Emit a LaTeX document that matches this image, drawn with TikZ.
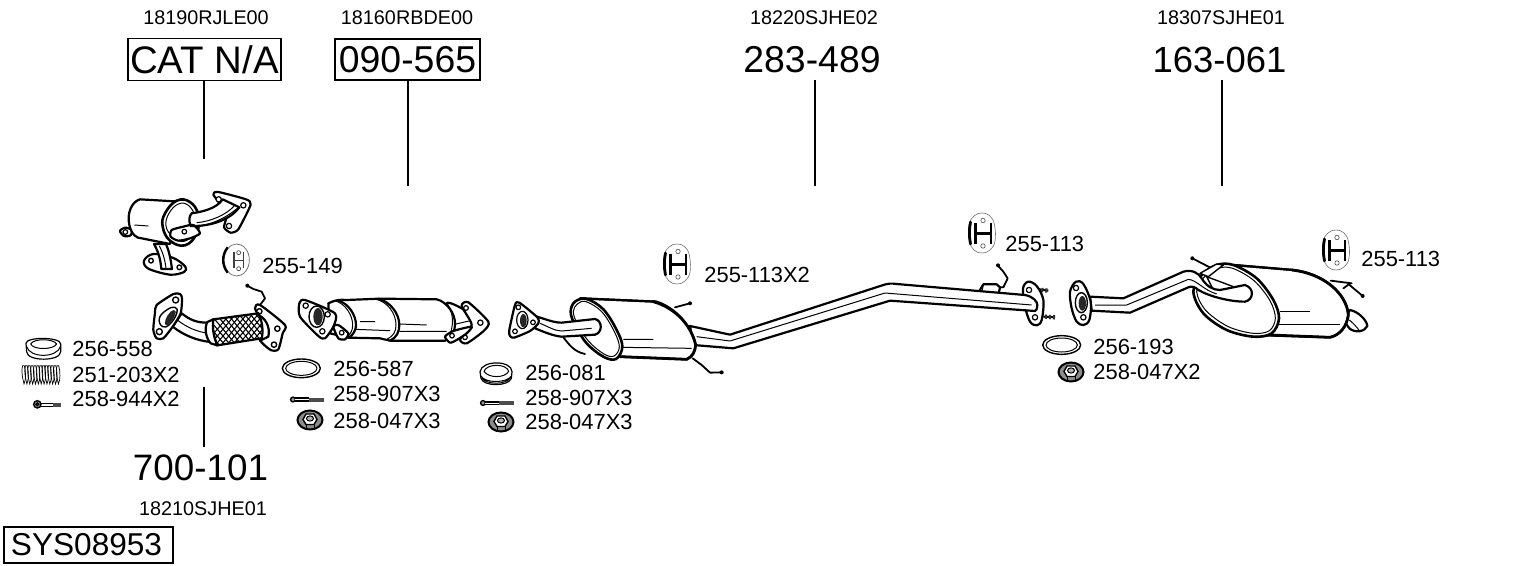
\documentclass[tikz,border=0pt]{standalone}
\usepackage{fontspec}
\setmainfont{Liberation Sans}
\tikzset{
  zg/.style={x=0.16667pt,y=-0.16667pt},
  part/.style={draw=black,fill=white,line width=1.1pt,line join=round},
  thn/.style={draw=black,line width=0.5pt,line join=round},
  wire/.style={draw=black,line width=0.9pt,line join=round,line cap=round},
  hugelab/.style={font=\fontsize{18.7}{20}\selectfont,inner sep=0pt,inner ysep=3.4pt},
  syslab/.style={font=\fontsize{15.8}{18}\selectfont,draw,line width=0.6pt,inner sep=0pt},
  reflab/.style={font=\fontsize{9.9}{12}\selectfont,inner sep=0pt},
  qtylab/.style={font=\fontsize{10.95}{13}\selectfont,anchor=west,inner sep=0pt},
  leader/.style={draw=black,line width=0.7pt},
  hanger/.pic={
    \draw[draw=black!55,line width=0.3pt,fill=white] plot[smooth cycle,tension=0.7] coordinates {(0,-20) (8,-17) (12.5,-8) (13,8) (8,17) (0,20) (-8,17) (-12.5,8) (-13,-8) (-8,-17)};
    \draw[line width=1.4pt,line cap=round] (-11.5,-11) .. controls (-13,-4) and (-13,4) .. (-11.5,11);
    \draw[line width=1.05pt] (-6.5,-10) -- (-6.5,11) (9,-10) -- (9,11) (-6.5,0.5) -- (9,0.5);
    \draw[line width=0.3pt,draw=black!70] (1,-12.5) circle (2.2) (1,13) circle (2.2);
  },
  nutpart/.pic={
    \draw[draw=black,line width=1pt,fill=black!45] (0,0) ellipse (12.5 and 9.5);
    \draw[fill=white,line width=0.7pt] (-7,-0.5) -- (-4,-6) -- (4,-6) -- (7,-0.5) -- (4,4.5) -- (-4,4.5) -- cycle;
    \draw[fill=black!30,line width=0.5pt] (0,-1.5) ellipse (3.5 and 2.6);
    \draw[line width=0.5pt] (-4,4.5) -- (-4,8) (4,4.5) -- (4,8);
  },
  boltpart/.pic={
    \draw[line width=0.7pt,fill=black!40] (0,0) circle (2.4);
    \draw[line width=0.9pt,double=white,double distance=0.5pt] (2,0) -- (16,0);
    \draw[line width=2pt,draw=black!70] (16,0) -- (31,0);
  }
}
\begin{document}
\begin{tikzpicture}[x=0.5pt,y=-0.5pt]
\useasboundingbox (0,0) rectangle (1530,566);

% ---- texts
\node[reflab] (r1) at (206,18) {18190RJLE00};
\node[reflab] (r2) at (407,18) {18160RBDE00};
\node[reflab] (r3) at (814,18) {18220SJHE02};
\node[reflab] (r4) at (1221,18) {18307SJHE01};
\node[reflab] (r5) at (203,509) {18210SJHE01};
\node[hugelab,font=\fontsize{19.2}{20}\selectfont,draw,line width=0.6pt,minimum width=76.5pt,minimum height=20.5pt] (n1) at (204.5,59.5) {CAT N/A};
\node[hugelab,draw,line width=0.6pt,minimum width=72.5pt,minimum height=20.5pt] (n2) at (407.5,59.5) {090-565};
\node[hugelab] (n3) at (812,60) {283-489};
\node[hugelab,font=\fontsize{18.2}{20}\selectfont] (n4) at (1219.5,60) {163-061};
\node[hugelab,font=\fontsize{18.4}{20}\selectfont] (n5) at (200.5,467.5) {700-101};
\node[syslab,minimum width=84.5pt,minimum height=18pt,text width=75.5pt,align=center] (sys) at (88.5,545) {\hspace*{-2pt}SYS08953};

\coordinate (c1) at (204,159);
\coordinate (c2) at (408,186);
\coordinate (c3) at (815,186);
\coordinate (c4) at (1222,186);
\coordinate (c5) at (204,387);
\draw[leader] (c1 |- n1.south) -- (c1);
\draw[leader] (c2 |- n2.south) -- (c2);
\draw[leader] (c3 |- n3.south) -- (c3);
\draw[leader] (c4 |- n4.south) -- (c4);
\draw[leader] (c5 |- n5.north) -- (c5);

\node[qtylab] (q1) at (262,266) {255-149};
\node[qtylab] (q2) at (72,349) {256-558};
\node[qtylab] (q3) at (72,375) {251-203X2};
\node[qtylab] (q4) at (72,399) {258-944X2};
\node[qtylab] (q5) at (333,369) {256-587};
\node[qtylab] (q6) at (333,394) {258-907X3};
\node[qtylab] (q7) at (333,421) {258-047X3};
\node[qtylab] (q8) at (525,373) {256-081};
\node[qtylab] (q9) at (525,398) {258-907X3};
\node[qtylab] (q10) at (525,422) {258-047X3};
\node[qtylab] (q11) at (704,275) {255-113X2};
\node[qtylab] (q12) at (1005,244) {255-113};
\node[qtylab] (q13) at (1361,259) {255-113};
\node[qtylab] (q14) at (1093,347) {256-193};
\node[qtylab] (q15) at (1093,372) {258-047X2};

% ---- hangers, nuts, bolts
\pic at (677,264) {hanger};
\pic at (982,233) {hanger};
\pic at (1336,250) {hanger};
\pic at (310,420) {nutpart};
\pic at (501,422) {nutpart};
\pic at (1071,372) {nutpart};
\pic at (293,399.5) {boltpart};
\pic at (483,403) {boltpart};

% ---- zoom 1 region: manifold cat, hanger, flex pipe, small parts
\begin{scope}[shift={(0,170)},zg]
  % manifold cat
  \draw[part] plot[smooth cycle,tension=0.55] coordinates {(432,272) (460,252) (520,264) (556,290) (552,306) (510,314) (445,296)};
  \draw[part] (462,222) .. controls (478,250) and (482,275) .. (484,297) -- (516,297) .. controls (512,265) and (506,240) .. (498,222) -- cycle;
  \draw[thn] (478,228) .. controls (490,250) and (496,275) .. (498,296);
  \draw[part,line width=0.7pt] (453,272) circle (7) (538,292) circle (7);
  \draw[part] plot[smooth cycle,tension=0.5] coordinates {(360,183) (375,173) (395,180) (392,196) (372,198)};
  \draw[part,line width=0.6pt] (376,186) circle (7);
  \draw[part] (420,88) .. controls (395,95) and (380,130) .. (388,165) .. controls (395,195) and (410,205) .. (425,205) -- (510,222) -- (540,95) -- cycle;
  \draw[thn] (403,165) -- (445,168);
  \draw[part,line width=1.3pt] plot[smooth cycle,tension=0.7] coordinates {(495,130) (530,92) (570,96) (595,135) (590,190) (555,226) (510,212) (488,170)};
  \draw[thn] plot[smooth cycle,tension=0.7] coordinates {(507,130) (535,102) (565,106) (584,140) (578,188) (552,214) (518,200) (498,168)};
  % upper flange
  \draw[part] plot[smooth cycle,tension=0.35] coordinates {(640,74) (655,66) (738,88) (752,104) (715,178) (692,188) (672,172) (680,130)};
  \draw[part,line width=0.6pt] (656,88) circle (8) (730,106) circle (8) (687,168) circle (8);
  % pipe
  \draw[part] (575,130) .. controls (610,125) and (650,115) .. (668,88) -- (718,112) .. controls (690,150) and (630,170) .. (572,168) .. controls (565,150) and (568,138) .. (575,130) -- cycle;
  \draw[thn] (590,158) .. controls (630,155) and (680,135) .. (705,105);
  % lower small flange on ring
  \draw[part] plot[smooth cycle,tension=0.4] coordinates {(515,180) (550,170) (580,165) (600,190) (570,205) (535,212) (512,200)};
  \draw[part,line width=0.6pt] (553,185) circle (7);
  \draw[thn] (570,170) .. controls (620,170) and (670,150) .. (712,115);

  % 255-149
  \draw[draw=black!60,line width=0.35pt,fill=white] (710,270) ellipse (38 and 48);
  \draw[line width=1.2pt] (683,232) .. controls (665,255) and (665,285) .. (683,308);
  \draw[line width=0.7pt,draw=black!75] (702,247) -- (702,295) (730,247) -- (730,295) (702,271) -- (730,271);
  \draw[draw=black!70,line width=0.35pt] (716,248) circle (6) (716,296) circle (6);

  % flex pipe
  \draw[part] (545,430) .. controls (570,450) and (590,458) .. (622,458) -- (632,516) .. controls (590,512) and (550,495) .. (518,470) -- cycle;
  \draw[thn] (532,450) .. controls (560,472) and (590,485) .. (625,490);
  \draw[part] plot[smooth cycle,tension=0.4] coordinates {(465,428) (470,405) (520,372) (540,372) (546,385) (542,430) (518,470) (490,505) (470,505) (460,480)};
  \draw[part,line width=0.7pt] (527,390) circle (9) (478,485) circle (9);
  \draw[part,line width=0.7pt] plot[smooth cycle,tension=0.8] coordinates {(478,445) (500,420) (525,412) (530,430) (510,462) (488,470)};
  \fill[black!85] plot[smooth cycle,tension=0.8] coordinates {(497,448) (512,425) (525,422) (525,435) (510,462) (497,465)};
  % right flange
  \draw[part] plot[smooth cycle,tension=0.4] coordinates {(765,415) (780,405) (855,465) (848,490) (835,538) (812,540) (780,510) (790,470)};
  \draw[part,line width=0.7pt] (778,424) circle (8) (832,476) circle (8) (822,524) circle (8);
  \draw[part] (768,432) .. controls (795,440) and (812,470) .. (805,500) -- (780,512) -- cycle;
  % mesh
  \begin{scope}
    \clip (640,448) -- (775,430) .. controls (788,455) and (790,485) .. (785,505) -- (652,526) .. controls (640,500) and (636,470) .. (640,448) -- cycle;
    \fill[white] (630,420) rectangle (800,540);
    \foreach \k in {0,1,...,14} {
      \draw[line width=0.55pt] ({570+\k*17},420) -- ({670+\k*17},540);
      \draw[line width=0.55pt] ({600+\k*17},540) -- ({700+\k*17},420);
    }
  \end{scope}
  \draw[draw=black,line width=1.1pt] (640,448) -- (775,430) .. controls (788,455) and (790,485) .. (785,505) -- (652,526) .. controls (640,500) and (636,470) .. (640,448) -- cycle;
  \draw[part,line width=1.1pt] (622,456) .. controls (612,475) and (618,505) .. (632,520) -- (652,526) .. controls (640,500) and (636,470) .. (640,448) -- cycle;
  \draw[wire] (742,347) -- (760,357) -- (785,365) -- (795,385) -- (780,405);
  \fill (742,347) circle (6);

  % 256-558
  \draw[part,line width=0.6pt] (78,520) .. controls (78,500) and (182,500) .. (182,522) -- (182,545) .. controls (182,575) and (80,575) .. (80,545) -- cycle;
  \draw[thn] (80,530) .. controls (90,565) and (172,565) .. (182,528);
  \draw[thn] (92,522) .. controls (100,505) and (160,505) .. (170,522) .. controls (160,540) and (100,540) .. (92,522) -- cycle;
  % spring
  \foreach \k in {0,1,...,12} {
    \draw[line width=0.35pt] ({68+\k*8.6},587) .. controls ({62+\k*8.6},610) and ({70+\k*8.6},630) .. ({72+\k*8.6},642) .. controls ({78+\k*8.6},630) and ({78+\k*8.6},605) .. ({73+\k*8.6},587) -- cycle;
  }
  % 258-944
  \draw[line width=0.7pt,fill=black!40] (112,703) circle (11);
  \draw[line width=0.7pt,fill=white] (112,703) circle (4);
  \draw[line width=0.7pt] (122,701) -- (160,701) (122,709) -- (160,709);
  \draw[line width=2.2pt,draw=black!70] (158,705) -- (183,705);
\end{scope}

% ---- zoom 2 region: front cat and gaskets
\begin{scope}[shift={(280,270)},zg]
  \draw[part,line width=0.7pt] (64,295) ellipse (57 and 28);
  \draw[thn] (64,295) ellipse (47 and 21);
  \draw[part,line width=0.6pt] (600,305) .. controls (605,270) and (695,270) .. (696,305) -- (694,325) .. controls (685,350) and (610,350) .. (603,325) -- cycle;
  \draw[thn] (603,318) .. controls (615,340) and (680,340) .. (694,318) (604,324) .. controls (620,345) and (680,345) .. (692,322);
  \draw[thn] (612,304) .. controls (620,280) and (680,280) .. (686,304) .. controls (675,325) and (625,325) .. (612,304) -- cycle;

  % body
  \draw[part] plot[smooth cycle,tension=0.35] coordinates {(500,100) (550,118) (582,150) (582,175) (550,192) (505,200)};
  \draw[thn] (515,165) -- (580,150);
  \draw[part] plot[smooth cycle,tension=0.4] coordinates {(545,108) (565,97) (625,155) (612,182) (560,220) (540,208) (575,165)};
  \draw[part,line width=0.6pt] (558,114) circle (7) (601,158) circle (8) (555,202) circle (7);
  \draw[part] (145,100) .. controls (165,90) and (180,88) .. (200,90) -- (300,86) -- (470,88) .. controls (500,95) and (525,130) .. (525,160) .. controls (525,185) and (515,205) .. (495,212) -- (330,212) -- (300,205) -- (205,203) -- (150,190) -- cycle;
  \draw[line width=1.1pt] (175,92) .. controls (205,100) and (228,135) .. (228,165) .. controls (228,180) and (220,195) .. (205,204);
  \draw[thn] (166,93) .. controls (195,100) and (218,135) .. (218,165) .. controls (218,180) and (213,192) .. (200,200);
  \draw[line width=1.1pt] (295,86) .. controls (330,95) and (358,130) .. (358,165) .. controls (358,185) and (350,203) .. (330,212);
  \draw[thn] (288,88) .. controls (322,95) and (348,130) .. (348,165) .. controls (348,185) and (340,198) .. (322,207);
  \draw[thn] (500,98) .. controls (515,120) and (525,150) .. (510,195);
  \draw[thn] (240,155) -- (285,155) (225,178) -- (330,182) (358,162) -- (440,165) (358,184) -- (500,184);
  \draw[part] plot[smooth cycle,tension=0.4] coordinates {(495,200) (520,183) (575,170) (560,190) (530,210) (510,218)};
  \draw[part,line width=0.6pt] (516,197) circle (7);
  \draw[part] plot[smooth cycle,tension=0.4] coordinates {(160,170) (175,165) (205,190) (195,208) (175,205)};
  \draw[part,line width=0.6pt] (185,188) circle (7);
  % left flange
  \draw[part] plot[smooth cycle,tension=0.4] coordinates {(58,100) (75,90) (165,130) (160,170) (135,205) (115,198) (60,140)};
  \draw[part,line width=0.6pt] (77,107) circle (8) (143,133) circle (8) (127,184) circle (8);
  \draw[part,line width=0.7pt] (110,140) ellipse (23 and 32);
  \fill[black!85] (114,140) ellipse (14 and 26);
\end{scope}

% ---- zoom 4 region: flanges behind the long pipe
\begin{scope}[shift={(840,200)},zg]
  \draw[wire] (472,195) -- (490,215) -- (503,235) -- (490,262) -- (478,262);
  \fill (474,196) circle (6);
  \draw[part] (415,278) -- (430,253) -- (470,253) -- (480,262) -- (475,285) -- cycle;
  \draw[thn] (430,253) -- (425,280);
  \draw[line width=1pt] (598,268) -- (625,272) (610,350) -- (645,352);
  \draw[line width=2.2pt,dash pattern=on 1pt off 1pt,draw=black!80] (604,270) -- (625,272) (615,350) -- (645,352);
  \draw[part] plot[smooth cycle,tension=0.55] coordinates {(549,265) (565,245) (590,258) (610,300) (605,360) (590,376) (570,365) (555,320)};
  \draw[part,line width=0.6pt] (567,270) circle (8) (585,352) circle (8);
  % 256-193
  \draw[part,line width=0.7pt] (665,435) ellipse (57 and 28);
  \draw[thn] (665,435) ellipse (47 and 21);
\end{scope}

% ---- zoom 3 region: long pipe and centre muffler
\begin{scope}[shift={(500,230)},zg]
  \draw[part] (570,288) -- (690,314) -- (1150,165) .. controls (1165,160) and (1175,160) .. (1190,162) -- (1575,195) .. controls (1600,200) and (1612,215) .. (1612,225) .. controls (1612,235) and (1610,240) .. (1605,243) -- (1170,212) -- (700,355) -- (580,345) -- cycle;
  \draw[thn] (590,320) -- (690,333) -- (1155,189) -- (1595,225);
  \draw[wire] (525,232) -- (570,220);
  \fill (570,220) circle (6);
  \draw[wire] (578,385) -- (605,405) -- (630,428) -- (665,427);
  \fill (665,427) circle (6);
  \path[part] (470,215) .. controls (530,235) and (575,290) .. (587,345) .. controls (585,365) and (578,380) .. (560,388) -- (360,380) -- (240,205) -- cycle;
  \draw[line width=1.1pt] (240,205) -- (470,215);
  \draw[line width=1.4pt] (460,215) .. controls (530,235) and (575,290) .. (587,345) .. controls (585,365) and (578,380) .. (560,388) -- (360,380);
  \draw[thn] (370,328) -- (460,328) (365,352) -- (575,355);
  \draw[part,line width=1.3pt] plot[smooth cycle,tension=0.6] coordinates {(225,215) (260,207) (310,238) (350,300) (367,350) (348,387) (310,380) (260,340) (225,285) (212,245)};
  \draw[thn] plot[smooth cycle,tension=0.6] coordinates {(232,222) (258,215) (305,245) (342,303) (358,350) (342,378) (312,372) (266,334) (232,282) (220,245)};
  % inlet pipe in front
  \draw[wire] (190,322) .. controls (205,340) and (220,365) .. (255,372);
  \draw[part] (110,260) .. controls (140,268) and (160,278) .. (185,278) -- (285,267) .. controls (308,272) and (308,308) .. (285,314) -- (185,320) .. controls (160,318) and (130,305) .. (105,295) -- cycle;
  \draw[thn] (120,280) .. controls (145,290) and (165,303) .. (185,303) -- (275,295);
  \draw[part] plot[smooth cycle,tension=0.4] coordinates {(30,318) (28,300) (45,225) (58,218) (112,262) (115,280) (90,303) (42,323)};
  \draw[part,line width=0.6pt] (55,232) circle (7) (99,277) circle (7) (45,304) circle (7);
  \draw[part,line width=0.6pt] (67,270) ellipse (17 and 26);
  \fill[black!85] (70,272) ellipse (10 and 20);
\end{scope}

% ---- zoom 5 region: rear muffler
\begin{scope}[shift={(1060,220)},zg]
  \draw[wire] (397,115) -- (455,145);
  \fill (397,115) circle (6);
  \draw[part] (870,270) .. controls (895,275) and (920,300) .. (922,318) .. controls (915,335) and (885,340) .. (868,325) -- (850,300) -- cycle;
  \draw[thn] (868,300) .. controls (880,310) and (890,320) .. (900,335);
  \path[part] (520,135) -- (700,150) .. controls (790,160) and (860,220) .. (865,285) .. controls (860,320) and (840,345) .. (810,352) -- (580,345) -- cycle;
  \draw[line width=1.4pt] (695,150) .. controls (790,160) and (860,220) .. (865,285) .. controls (860,320) and (840,345) .. (810,352) -- (630,345);
  \draw[line width=1.1pt] (520,135) -- (700,150);
  \draw[thn] (660,275) -- (750,275) (650,312) -- (840,312);
  \draw[wire] (812,182) -- (875,190) (850,205) -- (868,192) (865,192) -- (908,228);
  \fill (908,228) circle (6);
  \draw[part,line width=1.3pt] plot[smooth cycle,tension=0.55] coordinates {(400,215) (425,165) (470,135) (520,135) (590,175) (640,240) (657,295) (635,340) (580,350) (500,330) (430,280)};
  \draw[thn] plot[smooth cycle,tension=0.55] coordinates {(410,215) (432,172) (473,145) (518,145) (582,182) (630,242) (646,295) (628,332) (580,340) (505,320) (438,272)};
  % bracket inside muffler
  \draw[part,line width=0.7pt] (440,170) -- (520,200) -- (510,225) -- (460,210) -- cycle;
  \draw[part,line width=0.7pt] (420,160) -- (470,132) -- (490,135) -- (445,170) -- cycle;
  % pipe
  \draw[part] (90,230) -- (190,235) -- (370,155) .. controls (395,148) and (415,158) .. (425,175) .. controls (440,200) and (460,210) .. (480,210) -- (555,195) .. controls (585,205) and (580,240) .. (555,245) .. controls (510,245) and (450,230) .. (415,210) .. controls (405,200) and (395,198) .. (385,202) -- (210,278) -- (95,272) -- cycle;
  \draw[thn] (105,255) -- (200,255) -- (385,178) .. controls (410,180) and (430,210) .. (470,222);
  % flange
  \draw[part] plot[smooth cycle,tension=0.55] coordinates {(30,215) (48,185) (70,192) (92,245) (88,300) (70,315) (50,305) (35,265)};
  \draw[part,line width=0.6pt] (48,204) circle (8) (70,292) circle (8);
  \draw[part,line width=0.7pt] (64,248) ellipse (18 and 30);
  \fill[black!85] (67,250) ellipse (11 and 22);
\end{scope}
\end{tikzpicture}
\end{document}
